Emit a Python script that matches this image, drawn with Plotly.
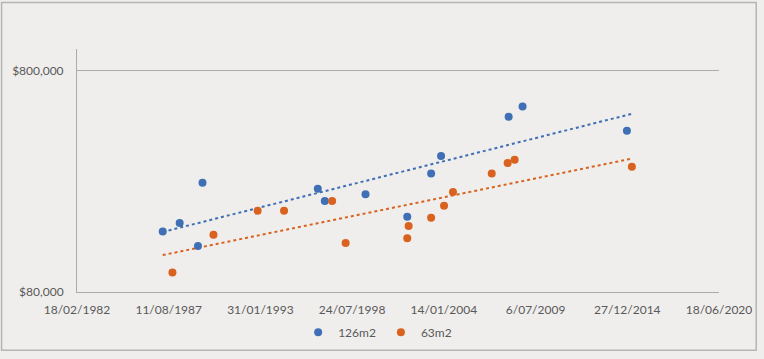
import numpy as np
import pandas as pd
import plotly.graph_objects as go

# ---- data ----
dates_126 = ["1987-04-03", "1988-04-06", "1989-05-10", "1989-08-17", "1996-07-05",
             "1996-12-05", "1999-05-12", "2001-11-07", "2003-04-11", "2003-11-14",
             "2007-11-27", "2008-09-25", "2014-12-19"]
price_126 = [150000, 164000, 129000, 249000, 234000,
             206000, 221000, 175000, 274000, 329000,
             494000, 550000, 428000]

dates_63 = ["1987-10-31", "1990-04-13", "1992-12-01", "1994-06-30", "1997-05-13",
            "1998-03-04", "2001-11-07", "2001-12-07", "2003-04-11", "2004-01-18",
            "2004-07-31", "2006-11-23", "2007-11-05", "2008-04-05", "2015-04-06"]
price_63 = [98000, 145000, 186000, 186000, 206000,
            133000, 140000, 159000, 173000, 196000,
            226000, 274000, 306000, 316000, 294000]

series_names = ["126m2", "63m2"]
y_tick_vals = [80000, 800000]
y_tick_text = ["$80,000", "$800,000"]
x_start, x_end = "1982-02-18", "2020-06-18"

# ---- styling ----
colors = ["#3F6FB5", "#D9621F"]
bg = "#EFEEEC"
axis_col = "#ABABAB"
text_col = "#595959"
font_family = "Lato, 'Open Sans', sans-serif"

x_ticks = pd.date_range(x_start, x_end, freq="2000D")
x_tick_text = [f"{d.day}/{d.month:02d}/{d.year}" for d in x_ticks]

all_dates = pd.to_datetime(dates_126 + dates_63)
t_min, t_max = all_dates.min(), all_dates.max()
origin = pd.Timestamp(x_start)


def exp_trend(dates, vals):
    d = (pd.to_datetime(dates) - origin).days.values.astype(float)
    b, a = np.polyfit(d, np.log(vals), 1)
    tx = pd.date_range(t_min, t_max, periods=50)
    td = (tx - origin).days.values.astype(float)
    return tx, np.exp(a + b * td)


series = [(series_names[0], dates_126, price_126, colors[0]),
          (series_names[1], dates_63, price_63, colors[1])]

fig = go.Figure()
for name, dts, vals, col in series:
    tx, ty = exp_trend(dts, vals)
    fig.add_trace(go.Scatter(x=tx, y=ty, mode="lines", showlegend=False,
                             line=dict(color=col, width=2, dash="dot"),
                             hoverinfo="skip"))
for name, dts, vals, col in series:
    fig.add_trace(go.Scatter(x=dts, y=vals, mode="markers", name=name,
                             marker=dict(color=col, size=8)))

W, H = 764, 359
L, R, T, B = 77, 40, 49, 62
pw, ph = W - L - R, H - T - B

fig.update_layout(
    width=W, height=H,
    margin=dict(l=L, r=R, t=T, b=B, pad=0),
    paper_bgcolor=bg, plot_bgcolor=bg,
    font=dict(family=font_family, size=12, color=text_col),
    showlegend=True,
    legend=dict(orientation="h", x=(380 - L) / pw, xanchor="center",
                y=(H - B - 338) / ph, yanchor="middle",
                font=dict(size=12, color=text_col), bgcolor="rgba(0,0,0,0)",
                itemwidth=30),
    xaxis=dict(type="date", range=[x_start, x_end],
               tickvals=x_ticks, ticktext=x_tick_text,
               showgrid=False, zeroline=False,
               showline=True, linecolor=axis_col, linewidth=1,
               ticks="outside", ticklen=7, tickcolor=bg,
               tickfont=dict(size=12, color=text_col)),
    yaxis=dict(type="log", range=[np.log10(80000), 6.0],
               tickvals=y_tick_vals, ticktext=y_tick_text,
               showgrid=True, gridcolor=axis_col, gridwidth=1,
               showline=True, linecolor=axis_col, linewidth=1,
               ticks="outside", ticklen=10, tickcolor=bg,
               tickfont=dict(size=12, color=text_col)),
    shapes=[dict(type="rect", xref="paper", yref="paper",
                 x0=(1 - L) / pw, x1=(W - 2.5 - L) / pw,
                 y0=(H - B - (H - 2.5)) / ph, y1=(H - B - 1.5) / ph,
                 line=dict(color="#B5B5B5", width=1.5), layer="below")],
)

reset = ("document.documentElement.style.margin='0';"
         "document.body.style.margin='0';"
         "document.body.style.overflow='hidden';")
fig.write_html("out.html", config={"displayModeBar": False}, post_script=reset)
